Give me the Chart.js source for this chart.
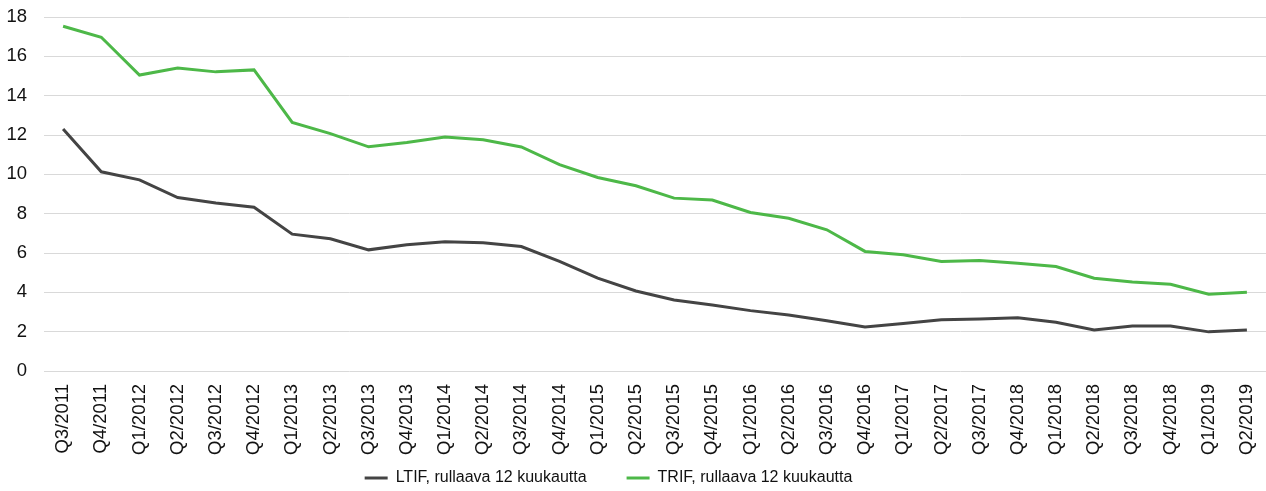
<!DOCTYPE html>
<html>
<head>
<meta charset="utf-8">
<script src="https://cdn.jsdelivr.net/npm/chart.js@4"></script>
<style>
  html, body { margin: 0; padding: 0; background: #fff; }
  #wrap { width: 1266px; height: 491px; position: relative; }
</style>
</head>
<body>
<div id="wrap"><canvas id="chart"></canvas></div>
<script>
// kvartaalit (alkuperäisessä kuvassa Q4/2018 on kahdesti)
const quarters = [
    "Q3/2011", "Q4/2011", "Q1/2012", "Q2/2012", "Q3/2012", "Q4/2012",
    "Q1/2013", "Q2/2013", "Q3/2013", "Q4/2013", "Q1/2014", "Q2/2014",
    "Q3/2014", "Q4/2014", "Q1/2015", "Q2/2015", "Q3/2015", "Q4/2015",
    "Q1/2016", "Q2/2016", "Q3/2016", "Q4/2016", "Q1/2017", "Q2/2017",
    "Q3/2017", "Q4/2018", "Q1/2018", "Q2/2018", "Q3/2018", "Q4/2018",
    "Q1/2019", "Q2/2019"
];

const ltif = [
    12.3, 10.13, 9.72, 8.82, 8.54, 8.33,
    6.96, 6.72, 6.16, 6.42, 6.57, 6.52,
    6.33, 5.57, 4.72, 4.07, 3.61, 3.36,
    3.07, 2.85, 2.56, 2.24, 2.41, 2.6,
    2.65, 2.71, 2.48, 2.09, 2.29, 2.29,
    1.99, 2.09
];

const trif = [
    17.53, 16.97, 15.05, 15.41, 15.21, 15.31,
    12.64, 12.07, 11.4, 11.62, 11.9, 11.76,
    11.39, 10.49, 9.84, 9.42, 8.79, 8.69,
    8.06, 7.77, 7.18, 6.08, 5.91, 5.57,
    5.62, 5.48, 5.31, 4.72, 4.52, 4.41,
    3.9, 4.0
];

const yTicks = [0, 2, 4, 6, 8, 10, 12, 14, 16, 18];

const seriesNames = ["LTIF, rullaava 12 kuukautta", "TRIF, rullaava 12 kuukautta"];
const ltifColor = "#444444";
const trifColor = "#4db848";
const fontFamily = "'Liberation Sans', Arial, sans-serif";

// selite hieman vasemmalle, x-akselin tekstit saavat ulottua selitteen päälle
const layoutTweaks = {
    id: 'layoutTweaks',
    afterLayout(chart) {
        if (chart.legend) {
            chart.legend.left -= 28;
            chart.legend.right -= 28;
        }
        const x = chart.scales.x;
        x.bottom = x.top + 110;
    }
};

const ctx = document.getElementById('chart').getContext('2d');

new Chart(ctx, {
    type: 'line',
    data: {
        labels: quarters,
        datasets: [
            {
                label: seriesNames[0],
                data: ltif,
                borderColor: ltifColor,
                backgroundColor: ltifColor,
                borderWidth: 3,
                pointRadius: 0,
                tension: 0
            },
            {
                label: seriesNames[1],
                data: trif,
                borderColor: trifColor,
                backgroundColor: trifColor,
                borderWidth: 3,
                pointRadius: 0,
                tension: 0
            }
        ]
    },
    options: {
        responsive: true,
        maintainAspectRatio: false,
        animation: false,
        layout: {
            padding: { left: 7, right: 0, top: 17, bottom: -5 }
        },
        scales: {
            x: {
                offset: true,
                grid: { display: false, drawTicks: false },
                border: { display: false },
                afterFit: (s) => {
                    s.paddingLeft = 0;
                    s.paddingRight = 0;
                    s.height = 59;
                },
                ticks: {
                    autoSkip: false,
                    maxRotation: 90,
                    minRotation: 90,
                    padding: 13,
                    color: '#111',
                    font: { family: fontFamily, size: 18.5 }
                }
            },
            y: {
                min: 0,
                max: 18,
                afterBuildTicks: (axis) => {
                    axis.ticks = yTicks.map(v => ({ value: v }));
                },
                afterFit: (s) => {
                    s.paddingTop = 0;
                    s.paddingBottom = 0;
                    s.width = 37;
                },
                grid: { color: '#d9d9d9', lineWidth: 1, drawTicks: false },
                border: { display: false },
                ticks: {
                    padding: 17,
                    color: '#111',
                    font: { family: fontFamily, size: 18.5 }
                }
            }
        },
        plugins: {
            legend: {
                display: true,
                position: 'bottom',
                labels: {
                    usePointStyle: true,
                    pointStyle: 'line',
                    pointStyleWidth: 23,
                    boxHeight: 16,
                    padding: 40,
                    color: '#111',
                    font: { family: fontFamily, size: 16 }
                }
            },
            tooltip: { enabled: false }
        }
    },
    plugins: [layoutTweaks]
});
</script>
</body>
</html>
